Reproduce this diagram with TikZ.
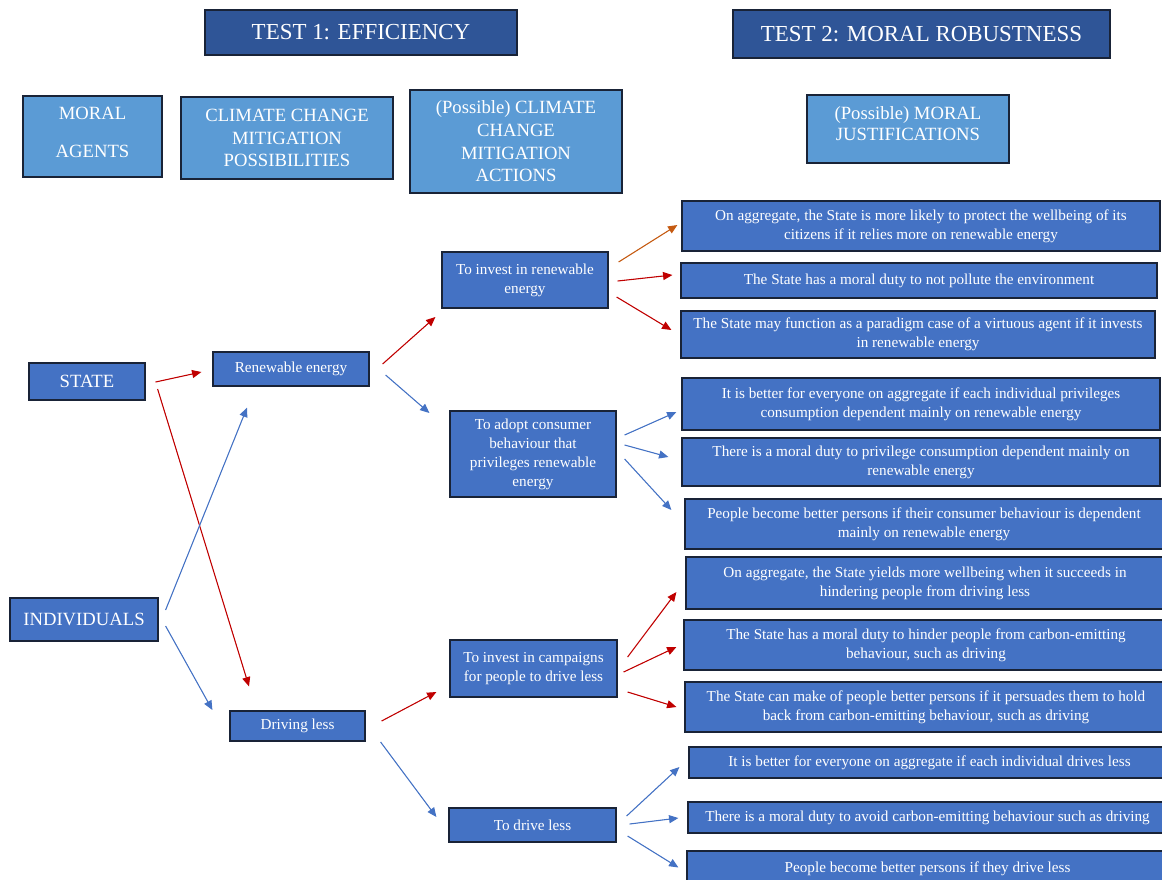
\documentclass[tikz,border=0pt]{standalone}
\usepackage{fontspec}
\setmainfont{Liberation Serif}
\usetikzlibrary{arrows.meta}
\definecolor{hdrblue}{RGB}{47,85,151}
\definecolor{lightblue}{RGB}{91,155,213}
\definecolor{midblue}{RGB}{68,114,196}
\definecolor{bordercol}{RGB}{25,35,55}
\definecolor{arrred}{RGB}{192,0,0}
\definecolor{arrblue}{RGB}{68,114,196}
\definecolor{arrorange}{RGB}{197,90,17}
\newcommand\bx[7]{\node[#1,minimum width={(#5-#3)*0.75pt},minimum height={(#6-#4)*0.75pt}] (#2) at ({(#3+#5)/2},{(#4+#6)/2}) {#7};}
\tikzset{
  boxbase/.style={draw=bordercol, line width=0.9pt, text=white, align=center, inner sep=1.5pt},
  hdr/.style={boxbase, fill=hdrblue, font=\fontsize{17.2}{20}\selectfont},
  lbox/.style={boxbase, fill=lightblue, font=\fontsize{14}{17}\selectfont},
  agent/.style={boxbase, fill=midblue, font=\fontsize{14}{16}\selectfont},
  midbox/.style={boxbase, fill=midblue, font=\fontsize{11.4}{14.25}\selectfont},
  just/.style={boxbase, fill=midblue, font=\fontsize{11.4}{14.25}\selectfont},
  arr/.style={line width=0.8pt, -{Triangle[length=7pt,width=6pt]}},
  ra/.style={arr, draw=arrred, fill=arrred},
  ba/.style={arr, draw=arrblue, fill=arrblue},
  oa/.style={arr, draw=arrorange, fill=arrorange}
}
\begin{document}
\begin{tikzpicture}[x=0.75pt,y=-0.75pt]
\useasboundingbox (0,0) rectangle (1162,879);
\clip (0,0) rectangle (1162,879);
% headers
\bx{hdr}{t1}{205}{10}{517}{55}{TEST 1: EFFICIENCY}
\bx{hdr}{t2}{733}{10}{1110}{58}{TEST 2: MORAL ROBUSTNESS}
% column titles
\bx{lbox}{c1}{23}{96}{162}{177}{MORAL\\[11pt]AGENTS\\[-16pt]\strut}
\bx{lbox}{c2}{181}{97}{393}{179}{CLIMATE CHANGE\\MITIGATION\\POSSIBILITIES}
\bx{lbox}{c3}{410}{90}{622}{193}{(Possible) CLIMATE\\CHANGE\\MITIGATION\\ACTIONS}
\bx{lbox}{c4}{807}{95}{1009}{163}{(Possible) MORAL\\[-1pt]JUSTIFICATIONS\\[-14pt]\strut}
% agents
\bx{agent}{state}{29}{363}{145}{400}{STATE}
\bx{agent}{indiv}{10}{598}{158}{641}{INDIVIDUALS}
% possibilities
\bx{midbox}{renew}{213}{352}{369}{386}{Renewable energy}
\bx{midbox}{drive}{230}{711}{365}{741}{Driving less}
% actions
\bx{midbox}{inv}{442}{252}{608}{308}{To invest in renewable\\energy}
\bx{midbox}{adopt}{450}{411}{616}{497}{To adopt consumer\\behaviour that\\privileges renewable\\energy}
\bx{midbox}{camp}{450}{640}{617}{697}{To invest in campaigns\\for people to drive less}
\bx{midbox}{dl}{449}{808}{616}{842}{To drive less}
% justifications
\bx{just}{j1}{682}{201}{1160}{251}{On aggregate, the State is more likely to protect the wellbeing of its\\citizens if it relies more on renewable energy}
\bx{just}{j2}{681}{263}{1157}{298}{The State has a moral duty to not pollute the environment}
\bx{just}{j3}{681}{311}{1155}{358}{The State may function as a paradigm case of a virtuous agent if it invests\\in renewable energy}
\bx{just}{j4}{682}{378}{1160}{430}{It is better for everyone on aggregate if each individual privileges\\consumption dependent mainly on renewable energy}
\bx{just}{j5}{682}{438}{1160}{486}{There is a moral duty to privilege consumption dependent mainly on\\renewable energy}
\bx{just}{j6}{685}{499}{1163}{549}{People become better persons if their consumer behaviour is dependent\\mainly on renewable energy}
\bx{just}{j7}{686}{557}{1164}{609}{On aggregate, the State yields more wellbeing when it succeeds in\\hindering people from driving less}
\bx{just}{j8}{684}{620}{1168}{670}{The State has a moral duty to hinder people from carbon-emitting\\behaviour, such as driving}
\bx{just}{j9}{685}{682}{1167}{732}{The State can make of people better persons if it persuades them to hold\\back from carbon-emitting behaviour, such as driving}
\bx{just}{j10}{689}{747}{1170}{778}{It is better for everyone on aggregate if each individual drives less}
\bx{just}{j11}{688}{802}{1167}{833}{There is a moral duty to avoid carbon-emitting behaviour such as driving}
\bx{just}{j12}{687}{851}{1168}{886}{People become better persons if they drive less}
% agent -> possibilities
\draw[ra] ([shift={(10,0.5)}]state.east) -- ([shift={(-11,3)}]renew.west);
\draw[ra] ([shift={(12,7.5)}]state.east) -- ([shift={(-48.5,-24)}]drive.north);
\draw[ba] ([shift={(7,-9.5)}]indiv.east) -- ([shift={(-44,21)}]renew.south);
\draw[ba] ([shift={(7,6.5)}]indiv.east) -- ([shift={(-17,-16)}]drive.west);
% possibilities -> actions
\draw[ra] ([shift={(13,-5)}]renew.east) -- ([shift={(-6,37)}]inv.west);
\draw[ba] ([shift={(16,6)}]renew.east) -- ([shift={(-20,-41)}]adopt.west);
\draw[ra] ([shift={(16,-5)}]drive.east) -- ([shift={(-13,23.5)}]camp.west);
\draw[ba] ([shift={(15,16)}]drive.east) -- ([shift={(-12,-8)}]dl.west);
% actions -> justifications
\draw[oa] ([shift={(10,-18)}]inv.east) -- ([shift={(-4,-1)}]j1.west);
\draw[ra] ([shift={(9,1)}]inv.east) -- ([shift={(-8,-5.5)}]j2.west);
\draw[ra] ([shift={(8,17)}]inv.east) -- ([shift={(-9,-4.5)}]j3.west);
\draw[ba] ([shift={(8,-19)}]adopt.east) -- ([shift={(-5,8)}]j4.west);
\draw[ba] ([shift={(8,-9)}]adopt.east) -- ([shift={(-13,-5)}]j5.west);
\draw[ba] ([shift={(8,5)}]adopt.east) -- ([shift={(-13,-14)}]j6.west);
\draw[ra] ([shift={(10,-11.5)}]camp.east) -- ([shift={(-9,9)}]j7.west);
\draw[ra] ([shift={(6,3.5)}]camp.east) -- ([shift={(-7,2)}]j8.west);
\draw[ra] ([shift={(10,23.5)}]camp.east) -- ([shift={(-8,0)}]j9.west);
\draw[ba] ([shift={(10,-9)}]dl.east) -- ([shift={(-9,4.5)}]j10.west);
\draw[ba] ([shift={(13,-1)}]dl.east) -- ([shift={(-9,0.5)}]j11.west);
\draw[ba] ([shift={(11,11)}]dl.east) -- ([shift={(-8,-1)}]j12.west);
\end{tikzpicture}
\end{document}
